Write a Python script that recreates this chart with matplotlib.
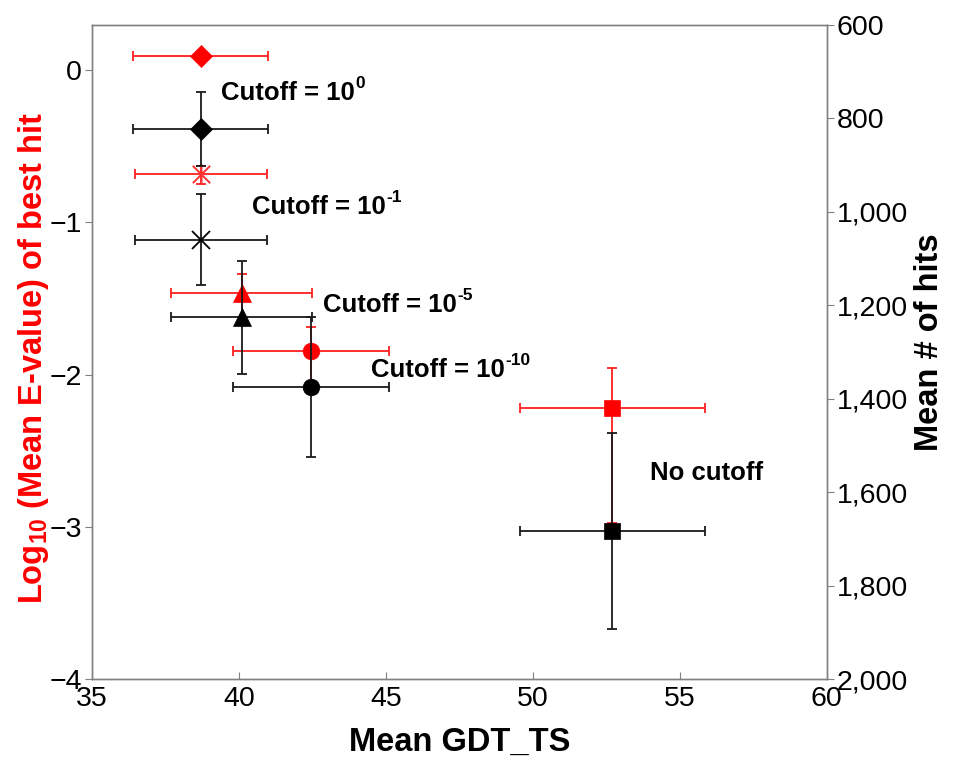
import matplotlib
matplotlib.use('Agg')
import matplotlib.pyplot as plt
from matplotlib.path import Path
from matplotlib.ticker import FuncFormatter, MultipleLocator
from matplotlib.transforms import offset_copy

plt.rcParams['font.family'] = ['Liberation Sans', 'DejaVu Sans']
plt.rcParams['mathtext.fontset'] = 'custom'
plt.rcParams['mathtext.rm'] = 'Liberation Sans'
plt.rcParams['mathtext.bf'] = 'Liberation Sans:bold'
plt.rcParams['mathtext.it'] = 'Liberation Sans:italic'

# ---- data ----
cutoff_main = ['Cutoff = 10', 'Cutoff = 10', 'Cutoff = 10', 'Cutoff = 10', 'No cutoff']
cutoff_sup = ['0', '-1', '-5', '-10', '']
label_x = [39.38, 40.43, 42.85, 44.48, 54.0]
label_y = [-0.193, -0.946, -1.587, -2.014, -2.693]

gdt = [38.7, 38.7, 40.1, 42.45, 52.7]
gdt_err = [2.3, 2.25, 2.4, 2.65, 3.15]
log_evalue = [0.09, -0.685, -1.463, -1.846, -2.222]
log_evalue_err_up = [0.0, 0.054, 0.125, 0.16, 0.265]
log_evalue_err_down = [0.0, 0.062, 0.18, 0.245, 0.75]
mean_hits = [824, 1060, 1226, 1375, 1683]
mean_hits_err = [79, 98, 121, 150, 209]

# custom star marker: x plus vertical line
star = Path([(-0.5, -0.5), (0.5, 0.5), (-0.5, 0.5), (0.5, -0.5), (0, -0.6), (0, 0.6)],
            [Path.MOVETO, Path.LINETO, Path.MOVETO, Path.LINETO, Path.MOVETO, Path.LINETO])
red_markers = ['D', star, '^', 'o', 's']
black_markers = ['D', 'x', '^', 'o', 's']
red_sizes = [11, 15, 12.5, 12, 12]
black_sizes = [11, 13, 12.5, 12, 12]

fig = plt.figure(figsize=(9.58, 7.59), dpi=100)
ax = fig.add_axes([0.096, 0.1054, 0.767, 0.8623])
ax2 = ax.twinx()

red = '#FF0000'
for i in range(len(gdt)):
    yerr = [[log_evalue_err_down[i]], [log_evalue_err_up[i]]]
    ax.errorbar([gdt[i]], [log_evalue[i]], xerr=[gdt_err[i]],
                yerr=yerr if log_evalue_err_up[i] > 0 else None,
                fmt='none', ecolor='#FF2020', elinewidth=1.3, capsize=3.5, capthick=1.3)
    ax.plot([gdt[i]], [log_evalue[i]], marker=red_markers[i], color=red,
            markersize=red_sizes[i], markeredgewidth=1.4 if i == 1 else 0.5,
            markeredgecolor='#FF3030' if i == 1 else red, linestyle='none')

for i in range(len(gdt)):
    ax2.errorbar([gdt[i]], [mean_hits[i]], xerr=[gdt_err[i]], yerr=[mean_hits_err[i]],
                 fmt='none', ecolor='#1a1a1a', elinewidth=1.3, capsize=3.5, capthick=1.3)
    ax2.plot([gdt[i]], [mean_hits[i]], marker=black_markers[i], color='black',
             markersize=black_sizes[i], markeredgewidth=1.3 if i == 1 else 0.5,
             linestyle='none')

main_texts = []
for t, x, y in zip(cutoff_main, label_x, label_y):
    main_texts.append(ax.text(x, y, t, fontsize=18.5, fontweight='bold',
                              ha='left', va='baseline'))

ax.set_xlim(35, 60)
ax.set_ylim(-4, 0.3)
ax2.set_ylim(2000, 600)
ax.xaxis.set_major_locator(MultipleLocator(5))
ax.yaxis.set_major_locator(MultipleLocator(1))
ax2.yaxis.set_major_locator(MultipleLocator(200))
ax2.yaxis.set_major_formatter(FuncFormatter(lambda v, p: f'{v:,.0f}'))

spine_c = '#808080'
for a in (ax, ax2):
    for s in a.spines.values():
        s.set_color(spine_c)
        s.set_linewidth(1.0)
ax.tick_params(axis='x', direction='in', length=5, color=spine_c, labelsize=20.5, pad=5, top=False)
ax.tick_params(axis='y', direction='out', length=5, color=spine_c, labelsize=20.5, pad=2)
ax2.tick_params(axis='y', direction='out', length=5, color=spine_c, labelsize=20.5, pad=2)

ax.set_xlabel('Mean GDT_TS', fontsize=23.5, fontweight='bold', va='center')
ax.xaxis.set_label_coords(0.5, -0.096)
ax.set_ylabel('Log$_{\\mathbf{10}}$ (Mean E-value) of best hit', fontsize=23.5,
              fontweight='bold', color=red, va='center')
ax.yaxis.set_label_coords(-0.0790, 0.49)
ax2.set_ylabel('Mean # of hits', fontsize=23.5, fontweight='bold', va='center', rotation=90)
ax2.yaxis.set_label_coords(1.140, 0.515)

# superscripts placed right after the main text
fig.canvas.draw()
renderer = fig.canvas.get_renderer()
inv = ax.transData.inverted()
for txt, sup, y in zip(main_texts, cutoff_sup, label_y):
    if not sup:
        continue
    bb = txt.get_window_extent(renderer)
    xd, _ = inv.transform((bb.x1 + 1, 0))
    ax.text(xd, y, sup, fontsize=12.5, fontweight='bold', ha='left', va='baseline',
            transform=offset_copy(ax.transData, fig=fig, x=0, y=8.5, units='points'))

fig.savefig('out.png', dpi=100)
